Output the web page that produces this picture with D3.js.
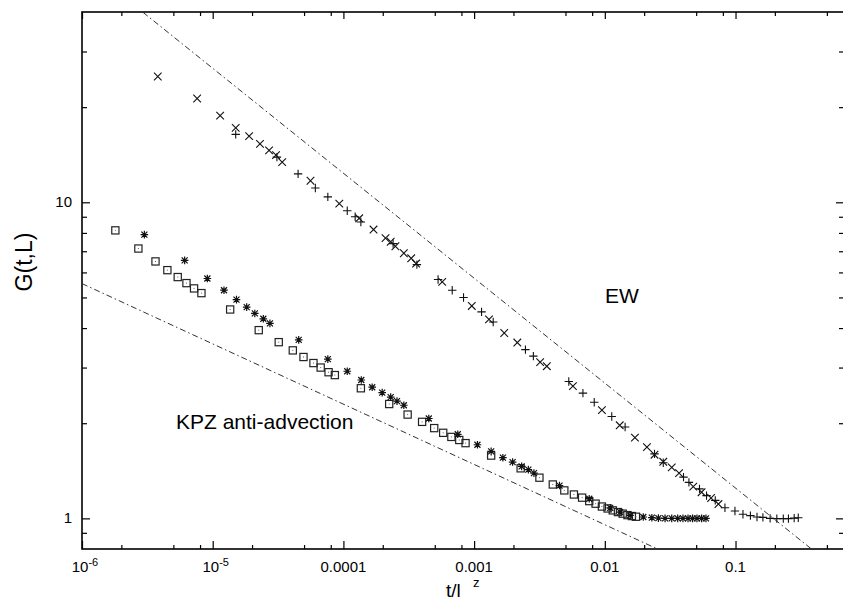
<!DOCTYPE html>
<html>
<head>
<meta charset="utf-8">
<script src="https://cdn.jsdelivr.net/npm/d3@7"></script>
<style>
  body { margin: 0; background: #fff; }
  svg text { font-family: "Liberation Sans", Arial, sans-serif; fill: #000; }
</style>
</head>
<body>
<div id="chart-area"></div>
<script>
// data (t/L^z , G(t,L))
let crossT = [3.8e-6, 7.6e-6, 1.14e-5, 1.5e-5, 1.9e-5, 2.3e-5, 2.7e-5, 3.05e-5, 3.4e-5, 5.6e-5,
	9.3e-5, 1.32e-4, 1.7e-4, 2.1e-4, 2.3e-4, 2.5e-4, 2.9e-4, 3.3e-4, 3.6e-4, 5.7e-4,
	9.6e-4, 1.3e-3, 1.7e-3, 2.14e-3, 3.2e-3, 3.6e-3, 5.7e-3, 9.5e-3, 0.013, 0.017,
	0.021, 0.024, 0.028, 0.0325, 0.037, 0.0475, 0.055, 0.065, 0.074];
let crossG = [25, 21.3, 18.8, 17.2, 16.2, 15.3, 14.6, 14.1, 13.4, 11.7,
	9.9, 8.9, 8.2, 7.7, 7.5, 7.26, 6.9, 6.65, 6.4, 5.6,
	4.7, 4.26, 3.86, 3.6, 3.12, 3.03, 2.62, 2.2, 1.97, 1.8,
	1.68, 1.59, 1.51, 1.45, 1.39, 1.26, 1.21, 1.16, 1.11];

let plusT = [1.5e-5, 3.1e-5, 4.5e-5, 6.1e-5, 7.6e-5, 1.07e-4, 1.23e-4, 1.36e-4, 2.4e-4, 3.65e-4,
	5.3e-4, 6.8e-4, 8.3e-4, 1.14e-3, 1.4e-3, 2.47e-3, 2.84e-3, 5.3e-3, 6.8e-3, 8.3e-3,
	0.0113, 0.0143, 0.024, 0.028, 0.04, 0.044, 0.053, 0.06, 0.07, 0.083,
	0.099, 0.114, 0.13, 0.146, 0.162, 0.184, 0.207, 0.232, 0.254, 0.281, 0.302];
let plusG = [16.4, 13.9, 12.3, 11.1, 10.4, 9.4, 9.0, 8.66, 7.4, 6.35,
	5.7, 5.27, 5.0, 4.5, 4.18, 3.42, 3.26, 2.71, 2.49, 2.33,
	2.1, 1.945, 1.6, 1.5, 1.35, 1.30, 1.24, 1.18, 1.14, 1.08,
	1.055, 1.03, 1.02, 1.01, 1.007, 1.0, 0.998, 0.998, 0.998, 1.002, 1.005];

let squareT = [1.8e-6, 2.7e-6, 3.65e-6, 4.5e-6, 5.4e-6, 6.3e-6, 7.2e-6, 8.2e-6, 1.36e-5, 2.25e-5,
	3.2e-5, 4.1e-5, 4.95e-5, 5.9e-5, 6.7e-5, 7.7e-5, 8.6e-5, 1.36e-4, 2.24e-4, 3.1e-4,
	4.0e-4, 4.95e-4, 5.8e-4, 6.7e-4, 7.7e-4, 8.6e-4, 1.35e-3, 2.27e-3, 3.16e-3, 4.0e-3,
	4.9e-3, 5.8e-3, 6.7e-3, 7.6e-3, 8.5e-3, 9.5e-3, 0.0105, 0.0115, 0.0126, 0.0137,
	0.0149, 0.0161, 0.0173];
let squareG = [8.15, 7.14, 6.5, 6.1, 5.8, 5.55, 5.34, 5.16, 4.58, 3.94,
	3.61, 3.4, 3.24, 3.1, 3.0, 2.9, 2.84, 2.58, 2.3, 2.13,
	2.02, 1.93, 1.865, 1.81, 1.77, 1.73, 1.58, 1.44, 1.345, 1.28,
	1.226, 1.19, 1.163, 1.134, 1.113, 1.09, 1.075, 1.06, 1.047, 1.035,
	1.024, 1.017, 1.012];

let starT = [3.0e-6, 6.1e-6, 9.1e-6, 1.22e-5, 1.52e-5, 1.82e-5, 2.1e-5, 2.44e-5, 2.74e-5, 4.55e-5,
	7.6e-5, 1.07e-4, 1.37e-4, 1.66e-4, 1.98e-4, 2.3e-4, 2.57e-4, 2.9e-4, 4.5e-4, 7.5e-4,
	1.06e-3, 1.35e-3, 1.66e-3, 1.97e-3, 2.31e-3, 2.6e-3, 2.87e-3, 4.5e-3, 7.6e-3, 0.011,
	0.0131, 0.0156, 0.0197, 0.0229, 0.0257, 0.0289, 0.0325, 0.0361, 0.0396, 0.0433,
	0.0469, 0.0507, 0.055, 0.0594];
let starG = [7.9, 6.55, 5.74, 5.27, 4.92, 4.66, 4.45, 4.28, 4.14, 3.67,
	3.19, 2.92, 2.74, 2.6, 2.5, 2.42, 2.35, 2.28, 2.07, 1.845,
	1.71, 1.63, 1.556, 1.507, 1.46, 1.426, 1.39, 1.27, 1.154, 1.08,
	1.047, 1.022, 1.01, 1.005, 1.002, 1.0, 1.0, 1.0, 1.0, 1.0,
	1.0, 1.0, 1.0, 1.0];

// reference power laws, two end points each
let ewLine = [[2.93e-6, 39.9], [0.381, 0.8]];
let kpzLine = [[1e-6, 5.53], [0.0253, 0.8]];

// ticks
let xMajor = [1e-6, 1e-5, 1e-4, 1e-3, 1e-2, 1e-1];
let xLabels = [["10", "-6"], ["10", "-5"], ["0.0001"], ["0.001"], ["0.01"], ["0.1"]];
let xMinorSteps = [2, 5, 8];
let yMajor = [1, 10];
let yLabels = ["1", "10"];
let yMinor = [0.9, 2, 3, 4, 5, 6, 7, 8, 9, 20, 30];

let xDomain = [1e-6, 0.676];
let yDomain = [0.8, 40];

// SVG size
let width = 843,
	height = 600;
let margin = {top: 12, bottom: 51, left: 82, right: -1};
let plotW = width - margin.left - margin.right,
	plotH = height - margin.top - margin.bottom;

let svg = d3.select("#chart-area").append("svg")
	.attr("width", width)
	.attr("height", height);

let xScale = d3.scaleLog()
	.domain(xDomain)
	.range([margin.left, margin.left + plotW]);

let yScale = d3.scaleLog()
	.domain(yDomain)
	.range([margin.top + plotH, margin.top]);

let xMinor = [];
xMajor.forEach(m => xMinorSteps.forEach(s => {
	if (m * s <= xDomain[1]) xMinor.push(m * s);
}));

// tick marks on all four sides, pointing inwards
function tickSide(axisFn, scale, values, size, transform) {
	let g = svg.append("g")
		.attr("transform", transform)
		.call(axisFn(scale).tickValues(values).tickSizeInner(size).tickSizeOuter(0).tickFormat(""));
	g.select(".domain").remove();
	g.selectAll("line").attr("stroke", "#000").attr("stroke-width", 1.2);
}
let bottomY = margin.top + plotH,
	rightX = margin.left + plotW;
tickSide(d3.axisBottom, xScale, xMajor, -8, `translate(0,${bottomY})`);
tickSide(d3.axisBottom, xScale, xMinor, -4, `translate(0,${bottomY})`);
tickSide(d3.axisTop, xScale, xMajor, -7, `translate(0,${margin.top})`);
tickSide(d3.axisTop, xScale, xMinor, -4, `translate(0,${margin.top})`);
tickSide(d3.axisLeft, yScale, yMajor, -8, `translate(${margin.left},0)`);
tickSide(d3.axisLeft, yScale, yMinor, -5, `translate(${margin.left},0)`);
tickSide(d3.axisRight, yScale, yMajor, -8, `translate(${rightX},0)`);
tickSide(d3.axisRight, yScale, yMinor, -5, `translate(${rightX},0)`);

// frame
svg.append("rect")
	.attr("x", margin.left)
	.attr("y", margin.top)
	.attr("width", plotW)
	.attr("height", plotH)
	.attr("fill", "none")
	.attr("stroke", "#000")
	.attr("stroke-width", 1.6);

// tick labels
xMajor.forEach((v, i) => {
	let lab = xLabels[i];
	let t = svg.append("text")
		.attr("x", xScale(v) + (lab.length > 1 ? 3 : 0))
		.attr("y", bottomY + 23)
		.attr("text-anchor", "middle")
		.attr("font-size", 15);
	t.append("tspan").text(lab[0]);
	if (lab.length > 1) {
		t.append("tspan").attr("dy", -6).attr("font-size", 11).text(lab[1]);
	}
});
yMajor.forEach((v, i) => {
	svg.append("text")
		.attr("x", margin.left - 10)
		.attr("y", yScale(v) + 5)
		.attr("text-anchor", "end")
		.attr("font-size", 15)
		.text(yLabels[i]);
});

// axis titles
svg.append("text")
	.attr("transform", "translate(32,262) rotate(-90)")
	.attr("text-anchor", "middle")
	.attr("font-size", 23)
	.text("G(t,L)");

svg.append("text")
	.attr("x", 446)
	.attr("y", 597)
	.attr("font-size", 19)
	.text("t/l");
svg.append("text")
	.attr("x", 473)
	.attr("y", 587)
	.attr("font-size", 13)
	.text("z");

// clip to the plot box
svg.append("clipPath").attr("id", "plot-clip")
	.append("rect")
	.attr("x", margin.left).attr("y", margin.top)
	.attr("width", plotW).attr("height", plotH);

let plotG = svg.append("g").attr("clip-path", "url(#plot-clip)");

// power-law guide lines
let line = d3.line().x(d => xScale(d[0])).y(d => yScale(d[1]));
[ewLine, kpzLine].forEach(pts => {
	plotG.append("path")
		.attr("d", line(pts))
		.attr("fill", "none")
		.attr("stroke", "#333")
		.attr("stroke-width", 1)
		.attr("stroke-dasharray", "6,3,1.5,3");
});

// markers
let crossPath = "M-3.8,-3.8L3.8,3.8M-3.8,3.8L3.8,-3.8";
let plusPath = "M-4.2,0H4.2M0,-4.2V4.2";
let starPath = "M-3.8,0H3.8M0,-3.8V3.8M-3,-3L3,3M-3,3L3,-3";

function zip(ts, gs) { return ts.map((t, i) => [t, gs[i]]); }

plotG.selectAll(".sq")
	.data(zip(squareT, squareG))
	.enter()
	.append("rect")
	.attr("class", "sq")
	.attr("x", d => xScale(d[0]) - 3.6)
	.attr("y", d => yScale(d[1]) - 3.6)
	.attr("width", 7.2)
	.attr("height", 7.2)
	.attr("fill", "none")
	.attr("stroke", "#222")
	.attr("stroke-width", 1.2);
plotG.selectAll(".sqdot")
	.data(zip(squareT, squareG))
	.enter()
	.append("rect")
	.attr("class", "sqdot")
	.attr("x", d => xScale(d[0]) - 0.5)
	.attr("y", d => yScale(d[1]) - 0.5)
	.attr("width", 1)
	.attr("height", 1)
	.attr("fill", "#666");

function drawSymbols(ts, gs, path, cls, sw) {
	plotG.selectAll("." + cls)
		.data(zip(ts, gs))
		.enter()
		.append("path")
		.attr("class", cls)
		.attr("transform", d => `translate(${xScale(d[0])},${yScale(d[1])})`)
		.attr("d", path)
		.attr("fill", "none")
		.attr("stroke", "#111")
		.attr("stroke-width", sw);
}
drawSymbols(starT, starG, starPath, "star", 1.2);
drawSymbols(crossT, crossG, crossPath, "cross", 1.1);
drawSymbols(plusT, plusG, plusPath, "plus", 1.1);

// curve labels
svg.append("text")
	.attr("x", 605)
	.attr("y", 303)
	.attr("font-size", 21)
	.text("EW");
svg.append("text")
	.attr("x", 176)
	.attr("y", 429)
	.attr("font-size", 21)
	.text("KPZ anti-advection");
</script>
</body>
</html>
